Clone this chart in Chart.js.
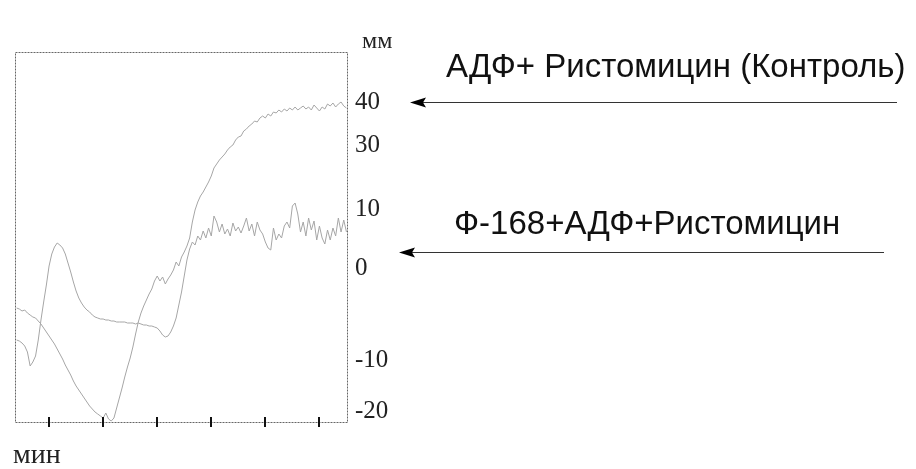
<!DOCTYPE html>
<html>
<head>
<meta charset="utf-8">
<title>Агрегация тромбоцитов</title>
<script src="https://cdn.jsdelivr.net/npm/chart.js@4.4.1/dist/chart.umd.min.js"></script>
<style>
  body { margin: 0; background: #fff; }
</style>
</head>
<body>
<canvas id="myChart" width="916" height="469"></canvas>
<script>
// time, min
var minutes = [
  0.40,0.45,0.50,0.55,0.60,0.65,0.70,0.75,0.80,0.85,
  0.90,0.95,1.00,1.05,1.10,1.15,1.20,1.25,1.30,1.35,
  1.40,1.45,1.50,1.55,1.60,1.65,1.70,1.75,1.80,1.85,
  1.90,1.95,2.00,2.05,2.10,2.15,2.20,2.25,2.30,2.35,
  2.40,2.45,2.50,2.55,2.60,2.65,2.70,2.75,2.80,2.85,
  2.90,2.95,3.00,3.05,3.10,3.15,3.20,3.25,3.30,3.35,
  3.40,3.45,3.50,3.55,3.60,3.65,3.70,3.75,3.80,3.85,
  3.90,3.95,4.00,4.05,4.10,4.15,4.20,4.25,4.30,4.35,
  4.40,4.45,4.50,4.55,4.60,4.65,4.70,4.75,4.80,4.85,
  4.90,4.95,5.00,5.05,5.10,5.15,5.20,5.25,5.30,5.35,
  5.40,5.45,5.50,5.55,5.60,5.65,5.70,5.75,5.80,5.85,
  5.90,5.95,6.00,6.05,6.10,6.15,6.20,6.25,6.30,6.35,
  6.40,6.45,6.50
];
// АДФ + ристомицин (контроль), mm
var control = [
  -1.2,-1.4,-1.8,-1.6,-2.2,-2.6,-3.0,-3.2,-3.8,-4.4,
  -5.2,-6.0,-6.8,-7.6,-8.4,-9.4,-10.4,-11.4,-12.6,-13.6,
  -14.6,-15.8,-16.8,-17.6,-18.4,-19.2,-20.0,-20.8,-21.4,-22.0,
  -22.4,-22.8,-23.2,-22.2,-23.4,-23.8,-23.2,-21.2,-19.2,-17.2,
  -15.0,-13.0,-11.2,-9.0,-6.4,-4.0,-2.2,-0.8,0.4,1.6,
  2.6,4.2,5.2,4.2,5.0,3.6,4.6,5.4,6.4,8.0,
  7.2,9.0,10.0,11.2,12.8,16.0,18.4,20.0,21.2,22.0,
  23.0,24.0,25.2,26.8,27.6,28.4,29.0,29.6,30.4,31.0,
  31.4,32.4,33.0,33.2,34.2,34.6,35.2,35.6,36.2,36.0,
  36.8,37.2,36.8,37.6,37.2,38.0,37.8,38.4,38.0,38.6,
  38.2,38.8,38.4,39.0,38.4,38.8,39.2,38.6,39.0,38.4,
  39.4,38.8,38.2,39.0,38.6,39.6,39.2,39.8,39.0,39.6,
  40.0,39.2,38.8
];
// Ф-168 + АДФ + ристомицин, mm
var f168 = [
  -7.6,-7.8,-8.2,-8.8,-10.0,-12.8,-12.0,-10.8,-7.6,-3.6,
  0.0,3.4,7.2,9.6,11.0,11.8,11.4,10.8,9.6,7.8,
  6.0,4.0,2.2,0.8,-0.2,-1.0,-1.6,-2.0,-2.6,-3.0,
  -3.2,-3.4,-3.4,-3.6,-3.6,-3.8,-3.8,-4.0,-4.0,-4.0,
  -4.0,-4.2,-4.2,-4.2,-4.4,-4.2,-4.4,-4.6,-4.6,-4.8,
  -4.8,-5.0,-5.2,-5.8,-6.6,-7.0,-6.8,-6.0,-4.8,-3.2,
  -0.6,2.0,5.2,8.4,10.6,12.0,11.4,13.2,12.4,14.2,
  12.8,14.8,13.2,17.2,16.0,14.0,15.6,13.6,14.6,13.2,
  15.8,14.2,15.0,13.8,15.2,16.8,14.2,15.6,13.2,16.0,
  14.4,13.6,12.0,10.8,10.4,14.8,12.4,13.6,12.8,15.2,
  16.0,14.8,19.2,19.8,17.6,14.0,16.0,13.2,16.8,14.4,
  16.2,12.4,15.2,12.8,11.6,14.4,12.4,14.8,13.2,16.8,
  14.0,16.4,14.0
];
// the printed scale is not even, so ticks sit where the labels stand
var yTickPos = [40, 31.4, 18.6, 6.8, -11.6, -21.8];
var yTickLabels = ['40', '30', '10', '0', '-10', '-20'];
var xTicks = [1, 2, 3, 4, 5, 6];
var labelControl = 'АДФ+ Ристомицин (Контроль)';
var labelF168 = 'Ф-168+АДФ+Ристомицин';

function points(ys) {
  return minutes.map(function (t, i) { return {x: t, y: ys[i]}; });
}

function arrow(ctx, tip, end, y) {
  ctx.strokeStyle = '#333';
  ctx.lineWidth = 1;
  ctx.beginPath();
  ctx.moveTo(tip + 10, y + 0.5);
  ctx.lineTo(end, y + 0.5);
  ctx.stroke();
  ctx.fillStyle = '#000';
  ctx.beginPath();
  ctx.moveTo(tip, y + 0.5);
  ctx.lineTo(tip + 16, y - 4.5);
  ctx.lineTo(tip + 13, y + 0.5);
  ctx.lineTo(tip + 16, y + 5.5);
  ctx.closePath();
  ctx.fill();
}

var frame = {
  id: 'frame',
  afterDraw: function (chart) {
    var ctx = chart.ctx, a = chart.chartArea;
    var xs = chart.scales.x, ys = chart.scales.y;
    ctx.save();
    // box round the plot
    ctx.strokeStyle = '#666';
    ctx.lineWidth = 1;
    ctx.setLineDash([2, 1]);
    ctx.strokeRect(a.left + 0.5, a.top + 0.5, a.right - a.left, a.bottom - a.top);
    ctx.setLineDash([]);
    // minute marks crossing the bottom line
    ctx.strokeStyle = '#111';
    ctx.lineWidth = 2;
    xTicks.forEach(function (t) {
      var px = Math.round(xs.getPixelForValue(t));
      ctx.beginPath();
      ctx.moveTo(px, a.bottom - 5);
      ctx.lineTo(px, a.bottom + 5);
      ctx.stroke();
    });
    // units
    ctx.fillStyle = '#222';
    ctx.textAlign = 'left';
    ctx.textBaseline = 'alphabetic';
    ctx.font = '24px "Liberation Serif"';
    ctx.fillText('мм', a.right + 15, 48);
    ctx.font = '28px "Liberation Serif"';
    ctx.fillText('мин', 13, 463);
    // series labels with arrows
    ctx.fillStyle = '#111';
    ctx.textBaseline = 'middle';
    ctx.font = '33px "Liberation Sans"';
    ctx.fillText(labelControl, 446, 68);
    ctx.fillText(labelF168, 454, 225);
    arrow(ctx, 410, 897, Math.round(ys.getPixelForValue(40)));
    arrow(ctx, 399, 884, Math.round(ys.getPixelForValue(10)));
    ctx.restore();
  }
};

var ctx = document.getElementById('myChart').getContext('2d');
var chart = new Chart(ctx, {
  type: 'line',
  data: {
    datasets: [{
      label: labelControl,
      data: points(control),
      borderColor: '#a6a6a6',
      borderWidth: 1,
      pointRadius: 0,
      tension: 0
    }, {
      label: labelF168,
      data: points(f168),
      borderColor: '#a6a6a6',
      borderWidth: 1,
      pointRadius: 0,
      tension: 0
    }]
  },
  options: {
    responsive: false,
    animation: false,
    layout: {padding: {left: 15, top: 52}},
    plugins: {legend: {display: false}, tooltip: {enabled: false}},
    scales: {
      x: {
        type: 'linear', min: 0.37, max: 6.51,
        grid: {display: false, drawTicks: false},
        border: {display: false},
        ticks: {display: false},
        afterFit: function (s) { s.height = 47; }
      },
      y: {
        position: 'right', min: -24, max: 50,
        grid: {display: false, drawTicks: false},
        border: {display: false},
        afterBuildTicks: function (s) {
          s.ticks = yTickPos.map(function (v) { return {value: v}; });
        },
        ticks: {
          padding: 8,
          color: '#222',
          font: {family: 'Liberation Serif', size: 25},
          callback: function (v, i) { return yTickLabels[i]; }
        },
        afterFit: function (s) { s.width = 569; }
      }
    }
  },
  plugins: [frame]
});
</script>
</body>
</html>
